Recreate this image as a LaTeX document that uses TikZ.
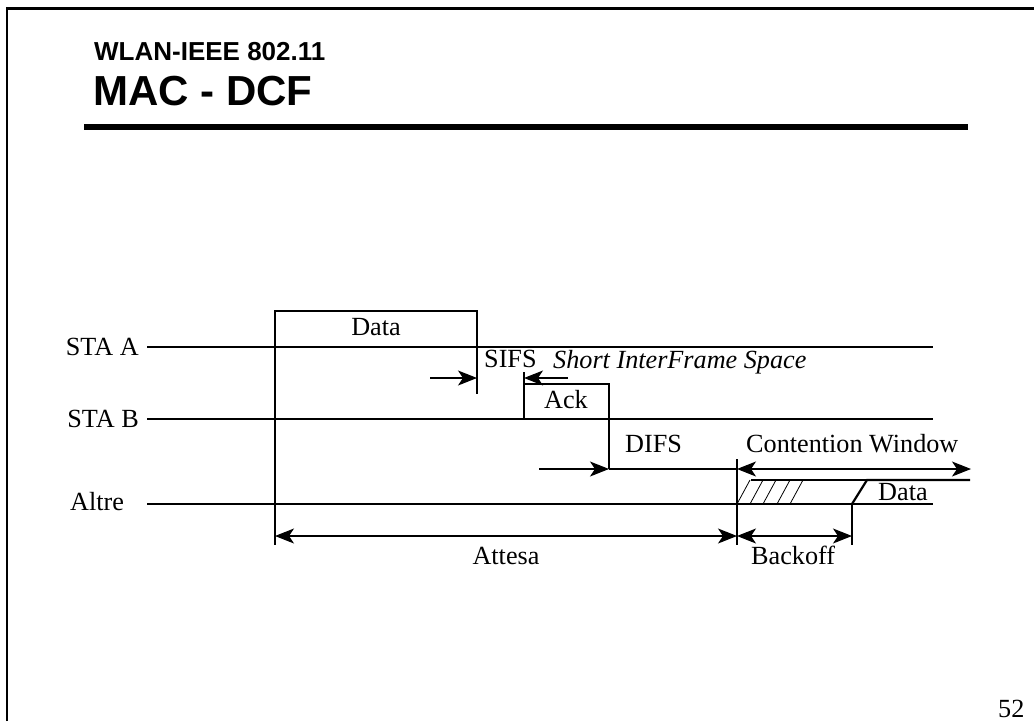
\documentclass[tikz,border=0pt]{standalone}
\usepackage{fontspec}
\setmainfont{Liberation Serif}
\newfontfamily\titlefont{Liberation Sans}
\usetikzlibrary{arrows.meta}
\tikzset{
  px/.style={x=1pt,y=-1pt},
  thinline/.style={line width=1.1pt},
  boxline/.style={line width=2.2pt},
  lbl/.style={inner sep=0pt,font=\fontsize{26.2}{28}\selectfont},
  tip/.style={-{Stealth[length=19pt,width=15pt,inset=5pt]}},
  dtip/.style={{Stealth[length=19pt,width=15pt,inset=5pt]}-{Stealth[length=19pt,width=15pt,inset=5pt]}},
}
\begin{document}
\begin{tikzpicture}[px]
\useasboundingbox (0,0) rectangle (1034,721);
% frame
\draw[line width=2.6pt] (7,721) -- (7,8.5) -- (1040,8.5);
% title
\node[inner sep=0pt,anchor=base west,font=\titlefont\bfseries\fontsize{26}{28}\selectfont] (t1) at (94,60) {WLAN-IEEE 802.11};
\node[inner sep=0pt,anchor=base west,font=\titlefont\bfseries\fontsize{42}{44}\selectfont] (t2) at (93,105) {MAC - DCF};
\draw[line width=6pt] (84,127) -- (968,127);

% station labels
\node[lbl,anchor=base east] (staA) at (139,355) {STA A};
\node[lbl,anchor=base east] (staB) at (139,427) {STA B};
\node[lbl,anchor=base west] (altre) at (70,510) {Altre};

% time lines
\draw[thinline] (147,347) coordinate (a0) -- (933,347) coordinate (a1);
\draw[thinline] (147,419) coordinate (b0) -- (933,419) coordinate (b1);
\draw[thinline] (147,504) coordinate (c0) -- (933,504) coordinate (c1);

% Data frame on STA A
\draw[boxline] (275,347) -- (275,311) -- (477,311) -- (477,347);
\node[lbl,anchor=base] (data1) at (376,335) {Data};

% Ack on STA B
\draw[boxline] (524,419) -- (524,384) -- (609,384) -- (609,419);
\node[lbl,anchor=base] (ack) at (566,408) {Ack};

% vertical ticks
\draw[thinline] (275,347) -- (275,545);
\draw[thinline] (477,347) -- (477,394);
\draw[thinline] (524,372) -- (524,384);
\draw[thinline] (609,419) -- (609,469);
\draw[thinline] (737,459) -- (737,545);
\draw[thinline] (852,504) -- (852,545);

% SIFS
\draw[thinline,tip] (430,378) -- (477,378);
\draw[thinline,tip] (568,378) -- (524,378);
\node[lbl,anchor=base west] (sifs) at (484,367) {SIFS};
\node[lbl,anchor=base west,font=\fontsize{26.2}{28}\selectfont\itshape] (sifsl) at (553,368) {Short InterFrame Space};

% DIFS
\draw[thinline,tip] (539,469) -- (609,469);
\draw[thinline] (609,469) -- (737,469);
\node[lbl,anchor=base west] (difs) at (625,452) {DIFS};

% Contention window
\draw[thinline,dtip] (737,469) -- (971,469);
\node[lbl,anchor=base west] (cw) at (746,452) {Contention Window};

% backoff hatch
\draw[thinline] (751,480) -- (867,480);
\foreach \x in {737,750,763,777,790}
  \draw[line width=0.8pt] (\x,504) -- ({\x+13},480);
\draw[boxline] (852,504) -- (867,480) -- (970,480);
\node[lbl,anchor=base west] (data2) at (878,500) {Data};

% Attesa / Backoff
\draw[thinline,dtip] (275,536) -- (737,536);
\draw[thinline,dtip] (737,536) -- (852,536);
\node[lbl,anchor=base] (attesa) at (506,564) {Attesa};
\node[lbl,anchor=base west] (backoff) at (751,564) {Backoff};

% page number
\node[lbl,anchor=base west] (pg) at (998,717) {52};
\end{tikzpicture}
\end{document}
